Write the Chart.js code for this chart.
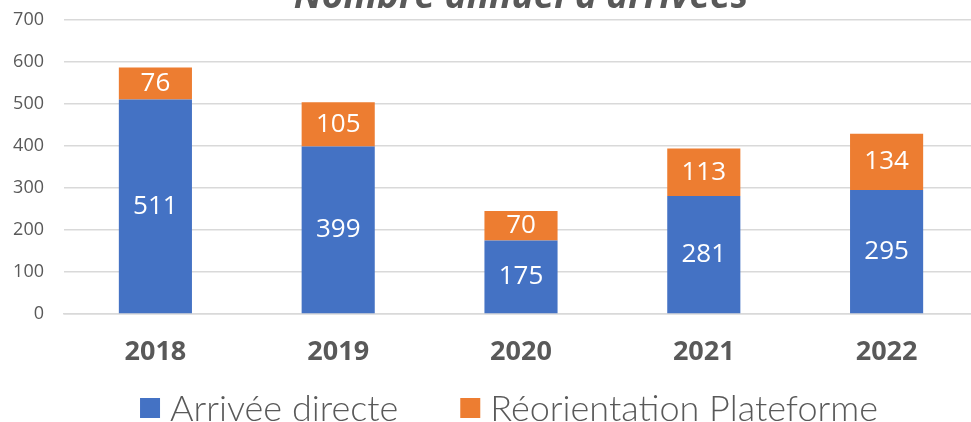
<!DOCTYPE html>
<html>
<head>
<meta charset="utf-8">
<script src="https://cdn.jsdelivr.net/npm/chart.js@4/dist/chart.umd.min.js"></script>
<style>
  html, body { margin: 0; padding: 0; background: #fff; overflow: hidden; }
  #wrap { width: 978px; height: 422px; position: relative; }
</style>
</head>
<body>
<div id="wrap"><canvas id="arrivalsChart"></canvas></div>
<script>
// Data
const years = ['2018', '2019', '2020', '2021', '2022'];
const directArrivals = [511, 399, 175, 281, 295];
const platformReorientations = [76, 105, 70, 113, 134];
const yTicks = [0, 100, 200, 300, 400, 500, 600, 700];

const TEXT_GREY = '#595959';

// Title sits partly above the canvas, centred on the plot area
const titlePlugin = {
  id: 'cutTitle',
  afterDraw(chart) {
    const { ctx, chartArea } = chart;
    ctx.save();
    ctx.font = 'italic bold 37px "Open Sans"';
    ctx.fillStyle = TEXT_GREY;
    ctx.textAlign = 'center';
    ctx.textBaseline = 'alphabetic';
    ctx.fillText("Nombre annuel d'arrivées", (chartArea.left + chartArea.right) / 2, 8);
    ctx.restore();
  }
};

// White value labels in the middle of each stacked segment
const segmentLabels = {
  id: 'segmentLabels',
  afterDatasetsDraw(chart) {
    const { ctx } = chart;
    ctx.save();
    ctx.font = '26px "Open Sans"';
    ctx.fillStyle = '#ffffff';
    ctx.textAlign = 'center';
    ctx.textBaseline = 'middle';
    chart.data.datasets.forEach((ds, i) => {
      const meta = chart.getDatasetMeta(i);
      meta.data.forEach((bar, j) => {
        const props = bar.getProps(['x', 'y', 'base'], true);
        ctx.fillText(String(ds.data[j]), props.x, (props.y + props.base) / 2);
      });
    });
    ctx.restore();
  }
};

// Legend drawn by hand so the spacing matches the original
const bottomLegend = {
  id: 'bottomLegend',
  afterDraw(chart) {
    const { ctx } = chart;
    const centerX = 509, centerY = 408, box = 20, textGap = 10, itemGap = 62;
    ctx.save();
    ctx.font = '300 36px Lato';
    ctx.textBaseline = 'middle';
    const items = chart.data.datasets.map(ds => ({
      text: ds.label,
      color: ds.backgroundColor,
      width: box + textGap + ctx.measureText(ds.label).width
    }));
    const total = items.reduce((s, it) => s + it.width, 0) + itemGap * (items.length - 1);
    let x = centerX - total / 2;
    items.forEach(it => {
      ctx.fillStyle = it.color;
      ctx.fillRect(x, centerY - box / 2, box, box);
      ctx.fillStyle = TEXT_GREY;
      ctx.textAlign = 'left';
      ctx.fillText(it.text, x + box + textGap, centerY + 1);
      x += it.width + itemGap;
    });
    ctx.restore();
  }
};

const canvas = document.getElementById('arrivalsChart');
new Chart(canvas, {
  type: 'bar',
  data: {
    labels: years,
    datasets: [
      {
        label: 'Arrivée directe',
        data: directArrivals,
        backgroundColor: '#4472C4',
        barPercentage: 0.4,
        categoryPercentage: 1
      },
      {
        label: 'Réorientation Plateforme',
        data: platformReorientations,
        backgroundColor: '#ED7D31',
        barPercentage: 0.4,
        categoryPercentage: 1
      }
    ]
  },
  options: {
    responsive: true,
    maintainAspectRatio: false,
    animation: false,
    layout: { padding: { top: 20, left: 0, right: 0, bottom: 0 } },
    scales: {
      x: {
        stacked: true,
        grid: { display: false },
        border: { color: '#D9D9D9', width: 1.5 },
        ticks: {
          color: TEXT_GREY,
          font: { family: '"Open Sans"', size: 27, weight: 'bold' },
          padding: 14
        },
        afterFit(scale) { scale.height = 108; }
      },
      y: {
        stacked: true,
        min: 0,
        max: 700,
        afterBuildTicks(scale) { scale.ticks = yTicks.map(v => ({ value: v })); },
        grid: { color: '#D9D9D9', lineWidth: 1.5, drawTicks: false },
        border: { display: false },
        ticks: {
          color: TEXT_GREY,
          font: { family: '"Open Sans"', size: 18 },
          padding: 20
        },
        afterFit(scale) {
          scale.width = 64;
          scale.paddingTop = 0;
          scale.paddingBottom = 0;
        }
      }
    },
    plugins: {
      legend: { display: false },
      tooltip: { enabled: false },
      title: { display: false }
    }
  },
  plugins: [titlePlugin, segmentLabels, bottomLegend]
});
</script>
</body>
</html>
